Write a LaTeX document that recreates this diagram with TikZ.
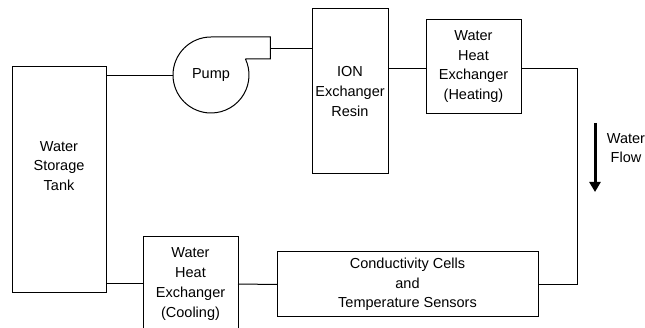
\documentclass[tikz,border=0pt]{standalone}
\usepackage{fontspec}
\setmainfont{Liberation Sans}
\usetikzlibrary{arrows.meta}

\begin{document}
\begin{tikzpicture}[x=1pt,y=1pt,line width=1pt,
		unit/.style={draw,black,rectangle,inner sep=0pt,outer sep=0pt,align=center},
		txt/.style={align=center,inner sep=0pt,font=\fontsize{14.5}{19.7}\selectfont}]
		\useasboundingbox (0,0) rectangle (645,-328);
		\node [unit,minimum width=94,minimum height=226] (tank) at (59,-180) {};
		\node [txt] (tanklbl) at (59,-166) {Water\\Storage\\Tank};
		\node [circle,inner sep=0pt,outer sep=0pt,minimum size=76,txt] (pump) at (211,-75) {Pump};
		\draw [black] (pump.25) -- ++(25,0) |- (pump.north) arc[start angle=90,end angle=385,radius=38];
		\coordinate (pumpout) at (270,-49);
		\node [unit,txt,draw,minimum width=76,minimum height=165] (resin) at (350,-91.5) {ION\\Exchanger\\Resin};
		\node [unit,txt,draw,minimum width=95,minimum height=94] (heat) at (473.5,-66.5) {Water\\Heat\\Exchanger\\(Heating)};
		\node [unit,txt,draw,minimum width=261,minimum height=65] (cond) at (407.5,-284.5) {Conductivity Cells\\and\\Temperature Sensors};
		\node [unit,txt,draw,minimum width=95,minimum height=94] (cool) at (190.5,-284) {Water\\Heat\\Exchanger\\(Cooling)};
		\coordinate (turn) at (577,-284.5);
		% pipes
		\draw [black] (tank.east |- 0,-76) -- (pump.west |- 0,-76);
		\draw [black] (pumpout) -- (pumpout -| resin.west);
		\draw [black] ([yshift=-2.5]heat.west -| resin.east) -- ([yshift=-2.5]heat.west);
		\draw [black] ([yshift=-2.5]heat.east) -| (turn) -- (cond.east);
		\draw [black] (cond.west) -- (cool.east);
		\draw [black] (cool.west) -- (cool.west -| tank.east);
		% flow direction
		\coordinate (flowtop) at (595,-123);
		\coordinate (flowend) at (595,-192);
		\draw [black,line width=3,-{Triangle[length=10,width=11]}] (flowtop) -- (flowend);
		\node [txt] (flowlbl) at (626,-148) {Water\\Flow};
\end{tikzpicture}
\end{document}
